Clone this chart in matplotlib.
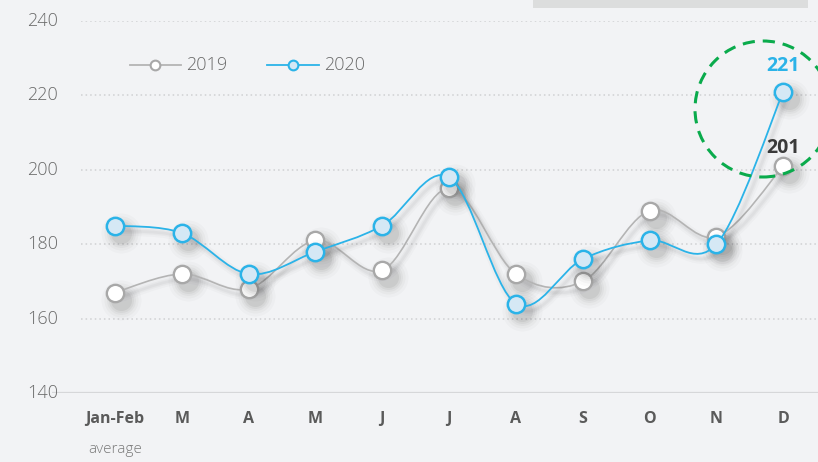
import numpy as np
import matplotlib
matplotlib.use('Agg')
import matplotlib.pyplot as plt
from matplotlib.path import Path
from matplotlib.patches import PathPatch, Ellipse, Rectangle
from matplotlib.lines import Line2D
import matplotlib.transforms as mtransforms

plt.rcParams['font.family'] = ['Open Sans', 'DejaVu Sans']

months = ['Jan-Feb', 'M', 'A', 'M', 'J', 'J', 'A', 'S', 'O', 'N', 'D']
values_2019 = [167, 172, 168, 181, 173, 195, 172, 170, 189, 182, 201]
values_2020 = [185, 183, 172, 178, 185, 198, 164, 176, 181, 180, 221]
y_ticks = [140, 160, 180, 200, 220, 240]

BG = '#f2f3f5'
GRAY_LINE = '#b4b4b4'
GRAY_EDGE = '#a8a8a8'
BLUE_LINE = '#2bb3e8'
BLUE_FILL = '#d5e8f5'
TEXT = '#6a6a6a'

W, H = 818, 462
fig = plt.figure(figsize=(W / 100, H / 100), dpi=100, facecolor=BG)
ax = fig.add_axes([52 / W, (H - 393) / H, 766 / W, 372 / H], facecolor=BG)
ax.set_xlim(-0.943, 10.52)
ax.set_ylim(140, 240)
ax.axis('off')


def spline_path(xs, ys, k=6.0):
    # Catmull-Rom spline through the points, written as cubic Bezier segments
    pts = np.column_stack([xs, ys]).astype(float)
    ext = np.vstack([pts[0], pts, pts[-1]])
    verts = [tuple(pts[0])]
    codes = [Path.MOVETO]
    for i in range(1, len(ext) - 2):
        p0, p1, p2, p3 = ext[i - 1], ext[i], ext[i + 1], ext[i + 2]
        c1 = p1 + (p2 - p0) / k
        c2 = p2 - (p3 - p1) / k
        verts += [tuple(c1), tuple(c2), tuple(p2)]
        codes += [Path.CURVE4] * 3
    return Path(verts, codes)


def offset(dx, dy):
    return mtransforms.offset_copy(ax.transData, fig=fig, x=dx, y=dy, units='dots')


def shadow(xs, ys, path, zorder):
    # soft drop shadow under the line and the markers
    for lw, alpha in [(7, 0.025), (4, 0.035), (2, 0.04)]:
        ax.add_patch(PathPatch(path, fc='none', ec='#303030', lw=lw, alpha=alpha,
                               transform=offset(4, -5), zorder=zorder, capstyle='round'))
    for d, alpha in [(40, 0.025), (34, 0.03), (29, 0.04), (25, 0.05), (21, 0.07)]:
        ax.scatter(xs, ys, s=(0.72 * d) ** 2, color='#303030', alpha=alpha, lw=0,
                   transform=offset(6, -7), zorder=zorder, clip_on=False)


x = np.arange(len(months))

# gridlines and baseline
for yt in y_ticks[1:]:
    ax.plot([-0.51, 10.52], [yt, yt], color='#cfd0d2', lw=1.1,
            linestyle=(0, (1, 2)), zorder=1)
ax.plot([-0.943, 10.52], [140, 140], color='#d6d7d9', lw=1.6, zorder=1)

for yt in y_ticks:
    ax.text(0.0078, yt, str(yt), transform=ax.get_yaxis_transform(),
            ha='right', va='center', fontsize=13, color=TEXT, fontweight='light')

for xi, m in zip(x, months):
    ax.text(xi, 133, m, ha='center', va='center', fontsize=11.5,
            fontweight='bold', color='#5a5a5a')
ax.text(0, 124.7, 'average', ha='center', va='center', fontsize=11,
        color='#7a7a7a', fontweight='light')

# 2019 series
path_2019 = spline_path(x, values_2019)
shadow(x, values_2019, path_2019, 2)
ax.add_patch(PathPatch(path_2019, fc='none', ec=GRAY_LINE, lw=1.2, zorder=3))
ax.plot(x, values_2019, ls='none', marker='o', ms=12.5, mfc='white',
        mec=GRAY_EDGE, mew=1.7, zorder=5, clip_on=False)

# 2020 series
path_2020 = spline_path(x, values_2020)
shadow(x, values_2020, path_2020, 6)
ax.add_patch(PathPatch(path_2020, fc='none', ec=BLUE_LINE, lw=1.3, zorder=7))
ax.plot(x, values_2020, ls='none', marker='o', ms=12.5, mfc=BLUE_FILL,
        mec=BLUE_LINE, mew=1.8, zorder=8, clip_on=False)

# value labels on December
ax.annotate(str(values_2020[-1]), (x[-1], values_2020[-1]), xytext=(0, 11),
            textcoords='offset points', ha='center', va='bottom',
            fontsize=14, fontweight='bold', color=BLUE_LINE, zorder=9)
ax.annotate(str(values_2019[-1]), (x[-1], values_2019[-1]), xytext=(0, 6),
            textcoords='offset points', ha='center', va='bottom',
            fontsize=14, fontweight='bold', color='#3a3a3a', zorder=9)

# dashed highlight circle
fig.add_artist(Ellipse((763 / W, (H - 109) / H), 136 / W, 136 / H, fill=False,
                       ec='#0aab4c', lw=2.2, ls=(0, (4, 2.6)), zorder=10))

# grey bar at the top
fig.add_artist(Rectangle((533 / W, (H - 8) / H), 275 / W, 8 / H, fc='#dcdddd',
                         ec='none', zorder=10))

# legend
ly = (H - 65) / H
for x0, x1, mx, tx, label, lc, fc, ec in [
        (130, 181, 155, 186, '2019', GRAY_LINE, 'white', GRAY_EDGE),
        (267, 319, 293, 324, '2020', BLUE_LINE, BLUE_FILL, BLUE_LINE)]:
    fig.add_artist(Line2D([x0 / W, x1 / W], [ly, ly], color=lc, lw=1.3))
    fig.add_artist(Line2D([mx / W], [ly], marker='o', ms=7, mfc=fc, mec=ec, mew=1.5))
    fig.text(tx / W, ly, label, ha='left', va='center', fontsize=13, color=TEXT,
             fontweight='light')

fig.savefig('out.png', dpi=100, facecolor=BG)
